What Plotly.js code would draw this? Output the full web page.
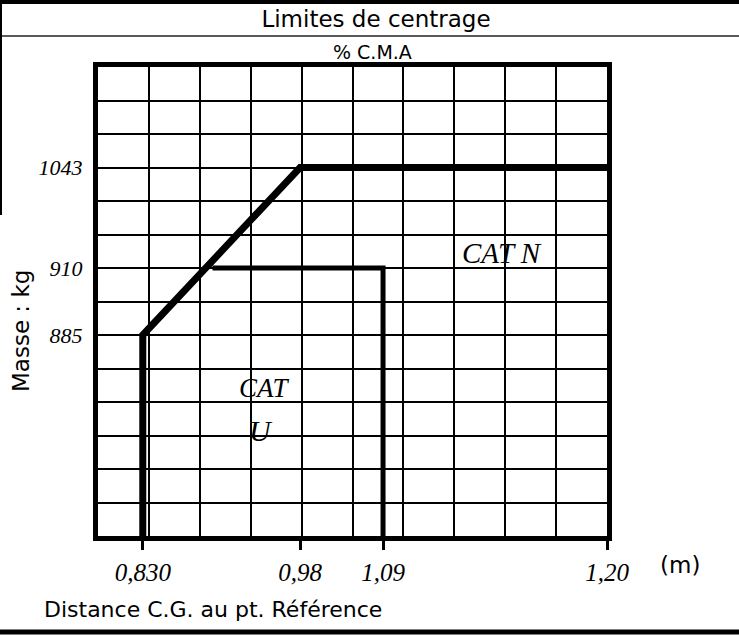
<!DOCTYPE html>
<html>
<head>
<meta charset="utf-8">
<script src="https://cdn.plot.ly/plotly-3.0.1.min.js"></script>
<style>html,body{margin:0;padding:0;background:#fff;}#chart{width:739px;height:635px;}</style>
</head>
<body>
<div id="chart"></div>
<script>
// Hand-labelled chart (not to scale): positions are in grid units (10 columns x 14 rows)
const distLabels = ['0,830', '0,98', '1,09', '1,20'];
const distPos = [0.88, 3.97, 5.6, 10];
const massLabels = ['885', '910', '1043'];
const massPos = [6, 8, 11];

// CAT N envelope
const catNx = [distPos[0], distPos[0], distPos[1], distPos[3]];
const catNy = [0, massPos[0], massPos[2], massPos[2]];
// CAT U envelope
const catUx = [2.25, distPos[2], distPos[2]];
const catUy = [massPos[1], massPos[1], 0];

const L = 98, T = 67, W = 509, H = 469;
const px = x => (x - L) / W;
const py = y => (T + H - y) / H;

const traces = [
  {x: catNx, y: catNy, mode: 'lines', name: 'CAT N', line: {color: '#000', width: 7}, cliponaxis: false, hoverinfo: 'skip'},
  {x: catUx, y: catUy, mode: 'lines', name: 'CAT U', line: {color: '#000', width: 5}, cliponaxis: false, hoverinfo: 'skip'}
];

const handX = {family: 'Liberation Serif', size: 25, color: '#000', style: 'italic'};
const handY = {family: 'Liberation Serif', size: 22, color: '#000', style: 'italic'};
const sans = 'DejaVu Sans';

const layout = {
  width: 739, height: 635,
  margin: {l: L, r: 739 - L - W, t: T, b: 635 - T - H, pad: 0},
  paper_bgcolor: '#fff', plot_bgcolor: '#fff',
  showlegend: false,
  title: {text: 'Limites de centrage', font: {family: sans, size: 23, color: '#000'},
          xref: 'container', x: 376 / 739, xanchor: 'center', yref: 'container', y: 1 - 19 / 635, yanchor: 'middle'},
  xaxis: {
    range: [0, 10], fixedrange: true,
    tickmode: 'array', tickvals: distPos, ticktext: distLabels, tickfont: handX,
    ticks: 'outside', ticklen: 9, tickwidth: 3, tickcolor: '#000', ticklabelstandoff: 1,
    showgrid: false, zeroline: false,
    showline: true, mirror: true, linewidth: 5, linecolor: '#000',
    minor: {tickmode: 'linear', tick0: 0, dtick: 1, showgrid: true, gridcolor: '#000', gridwidth: 2, ticks: ''}
  },
  yaxis: {
    range: [0, 14], fixedrange: true,
    tickmode: 'array', tickvals: massPos, ticktext: massLabels, tickfont: handY,
    ticks: '', ticklabelstandoff: 6,
    showgrid: false, zeroline: false,
    showline: true, mirror: true, linewidth: 5, linecolor: '#000',
    minor: {tickmode: 'linear', tick0: 0, dtick: 1, showgrid: true, gridcolor: '#000', gridwidth: 2, ticks: ''}
  },
  annotations: [
    {text: '% C.M.A', xref: 'paper', yref: 'paper', x: px(372), y: py(52), showarrow: false,
     font: {family: sans, size: 19, color: '#000'}, xanchor: 'center', yanchor: 'middle'},
    {text: 'Masse : kg', xref: 'paper', yref: 'paper', x: px(21), y: py(331), showarrow: false, textangle: -90,
     font: {family: sans, size: 23, color: '#000'}, xanchor: 'center', yanchor: 'middle'},
    {text: 'Distance C.G. au pt. Référence', xref: 'paper', yref: 'paper', x: px(42), y: py(609), showarrow: false,
     font: {family: sans, size: 22, color: '#000'}, xanchor: 'left', yanchor: 'middle'},
    {text: '(m)', xref: 'paper', yref: 'paper', x: px(680), y: py(565), showarrow: false,
     font: {family: sans, size: 23, color: '#000'}, xanchor: 'center', yanchor: 'middle'},
    {text: 'CAT N', xref: 'x', yref: 'y', x: 7.94, y: 8.45, showarrow: false,
     font: {family: 'Liberation Serif', size: 29, color: '#000', style: 'italic'}},
    {text: 'CAT', xref: 'x', yref: 'y', x: 3.28, y: 4.42, showarrow: false,
     font: {family: 'Liberation Serif', size: 27, color: '#000', style: 'italic'}},
    {text: 'U', xref: 'x', yref: 'y', x: 3.2, y: 3.16, showarrow: false,
     font: {family: 'Liberation Serif', size: 30, color: '#000', style: 'italic'}}
  ],
  shapes: [
    {type: 'line', xref: 'paper', yref: 'paper', x0: px(0), x1: px(739), y0: py(2), y1: py(2), line: {color: '#000', width: 4}},
    {type: 'line', xref: 'paper', yref: 'paper', x0: px(0), x1: px(739), y0: py(36), y1: py(36), line: {color: '#222', width: 1.5}},
    {type: 'line', xref: 'paper', yref: 'paper', x0: px(0), x1: px(739), y0: py(632), y1: py(632), line: {color: '#000', width: 5}},
    {type: 'line', xref: 'paper', yref: 'paper', x0: px(1), x1: px(1), y0: py(0), y1: py(215), line: {color: '#000', width: 2}}
  ]
};

Plotly.newPlot('chart', traces, layout, {staticPlot: true, displayModeBar: false});
</script>
</body>
</html>
